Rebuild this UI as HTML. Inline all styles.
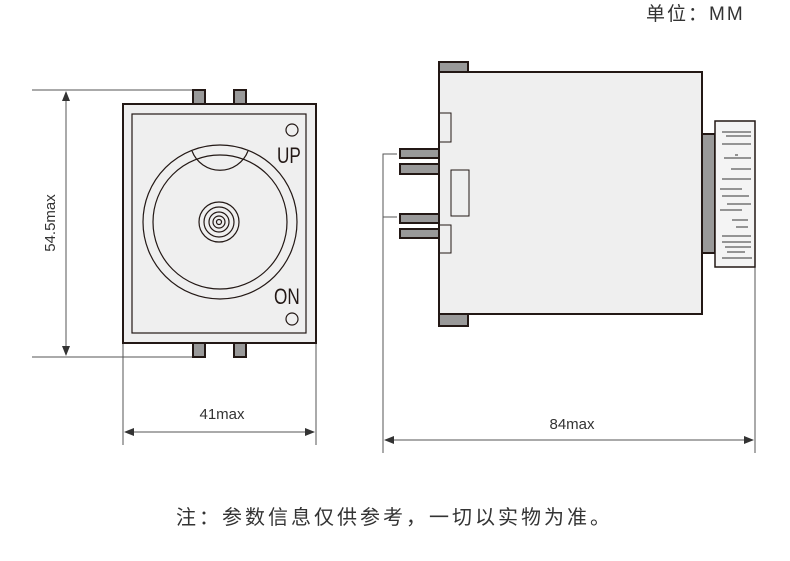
<!DOCTYPE html>
<html><head><meta charset="utf-8"><style>
body{margin:0;background:#fff;}
svg{display:block;}
text{font-family:"Liberation Sans","Noto Sans CJK SC",sans-serif;fill:#333;}
</style></head><body>
<svg width="790" height="561" viewBox="0 0 790 561" xmlns="http://www.w3.org/2000/svg">
<defs>
<marker id="a" markerWidth="10" markerHeight="8" refX="9" refY="4" orient="auto-start-reverse" markerUnits="userSpaceOnUse"><path d="M0,0 L10,4 L0,8 z" fill="#333"/></marker>
</defs>
<text x="646" y="20" font-size="19" letter-spacing="2">单位：MM</text>
<!-- left view -->
<g stroke="#555" stroke-width="1" fill="none">
<line x1="32" y1="90" x2="193" y2="90"/>
<line x1="32" y1="357" x2="193" y2="357"/>
<line x1="66" y1="92" x2="66" y2="355" marker-start="url(#a)" marker-end="url(#a)"/>
<line x1="123" y1="343" x2="123" y2="445"/>
<line x1="316" y1="343" x2="316" y2="445"/>
<line x1="125" y1="432" x2="314" y2="432" marker-start="url(#a)" marker-end="url(#a)"/>
</g>
<text x="55" y="223" font-size="15" transform="rotate(-90 55 223)" text-anchor="middle">54.5max</text>
<text x="222" y="419" font-size="15" text-anchor="middle">41max</text>
<g stroke="#231815" stroke-width="2" fill="#999">
<rect x="193" y="90" width="12" height="14"/><rect x="234" y="90" width="12" height="14"/>
<rect x="193" y="343" width="12" height="14"/><rect x="234" y="343" width="12" height="14"/>
</g>
<rect x="123" y="104" width="193" height="239" fill="#efefef" stroke="#231815" stroke-width="2"/>
<rect x="132" y="114" width="174" height="219" fill="none" stroke="#231815" stroke-width="1.2"/>
<g fill="none" stroke="#231815" stroke-width="1.2">
<circle cx="220" cy="222" r="77"/>
<circle cx="220" cy="222" r="67"/>
<path d="M192,151 A30,30 0 0 0 248,151"/>
<circle cx="219" cy="222" r="20"/><circle cx="219" cy="222" r="15"/>
<circle cx="219" cy="222" r="10"/><circle cx="219" cy="222" r="6"/><circle cx="219" cy="222" r="2.5"/>
<circle cx="292" cy="130" r="6"/><circle cx="292" cy="319" r="6"/>
</g>
<text x="0" y="0" font-size="22" transform="translate(277,163) scale(0.78,1)" style="fill:#231815">UP</text>
<text x="0" y="0" font-size="22" transform="translate(274,304) scale(0.78,1)" style="fill:#231815">ON</text>
<!-- right view -->
<g stroke="#555" stroke-width="1" fill="none">
<polyline points="397,154 383,154 383,453"/>
<line x1="383" y1="217" x2="397" y2="217"/>
<line x1="755" y1="267" x2="755" y2="453"/>
<line x1="385" y1="440" x2="753" y2="440" marker-start="url(#a)" marker-end="url(#a)"/>
</g>
<text x="572" y="429" font-size="15" text-anchor="middle">84max</text>
<g stroke="#231815" stroke-width="2" fill="#999">
<rect x="439" y="62" width="29" height="10"/><rect x="439" y="314" width="29" height="12"/>
<rect x="400" y="149" width="39" height="9"/><rect x="400" y="164" width="39" height="10"/>
<rect x="400" y="214" width="39" height="9"/><rect x="400" y="229" width="39" height="9"/>
<rect x="702" y="134" width="13" height="119"/>
</g>
<rect x="439" y="72" width="263" height="242" fill="#efefef" stroke="#231815" stroke-width="2"/>
<g fill="none" stroke="#231815" stroke-width="1">
<rect x="439" y="113" width="12" height="29"/>
<rect x="451" y="170" width="18" height="46"/>
<rect x="439" y="225" width="12" height="28"/>
</g>
<rect x="715" y="121" width="40" height="146" fill="#f4f4f4" stroke="#231815" stroke-width="1.5"/>
<g stroke="#333" stroke-width="1">
<line x1="722" y1="132" x2="751" y2="132"/><line x1="726" y1="136" x2="751" y2="136"/>
<line x1="722" y1="144" x2="751" y2="144"/><line x1="735" y1="155" x2="738" y2="155"/>
<line x1="724" y1="158" x2="751" y2="158"/><line x1="731" y1="169" x2="751" y2="169"/>
<line x1="722" y1="179" x2="751" y2="179"/><line x1="720" y1="189" x2="742" y2="189"/>
<line x1="722" y1="196" x2="749" y2="196"/><line x1="727" y1="204" x2="751" y2="204"/>
<line x1="720" y1="210" x2="742" y2="210"/><line x1="732" y1="220" x2="748" y2="220"/>
<line x1="736" y1="227" x2="748" y2="227"/><line x1="722" y1="236" x2="751" y2="236"/>
<line x1="722" y1="242" x2="751" y2="242"/><line x1="725" y1="247" x2="751" y2="247"/>
<line x1="727" y1="252" x2="745" y2="252"/><line x1="722" y1="258" x2="752" y2="258"/>
</g>
<text x="176" y="524" font-size="20" letter-spacing="3">注：参数信息仅供参考，一切以实物为准。</text>
</svg>
</body></html>
